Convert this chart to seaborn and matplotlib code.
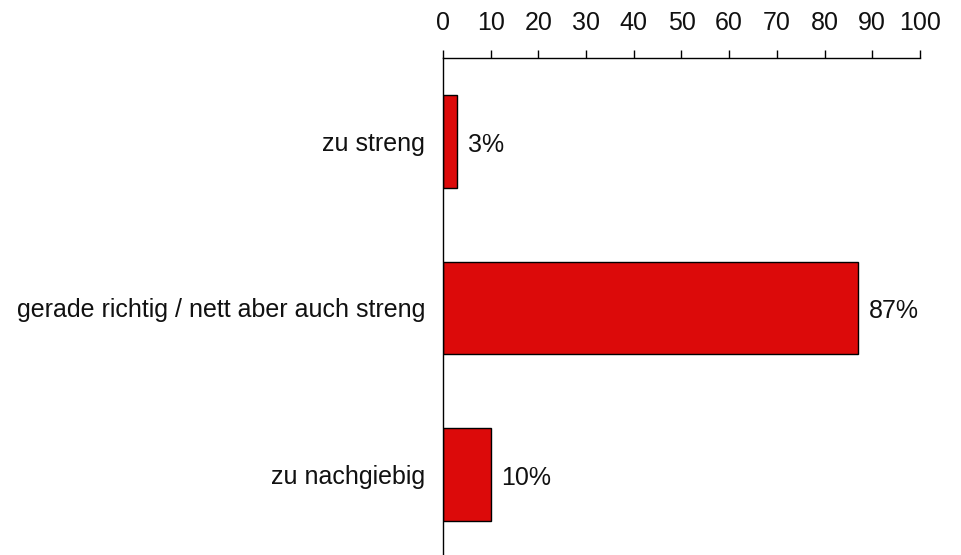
import pandas as pd
import seaborn as sns
import matplotlib.pyplot as plt

# Antworten und Anteile (in Prozent)
kategorien = ['zu streng', 'gerade richtig / nett aber auch streng', 'zu nachgiebig']
anteile = [3, 87, 10]
x_ticks = [0, 10, 20, 30, 40, 50, 60, 70, 80, 90, 100]

df = pd.DataFrame({'kategorie': kategorien, 'anteil': anteile})

sns.set_theme(style="white")
plt.rcParams['font.family'] = ['Liberation Sans', 'DejaVu Sans']

fig = plt.figure(figsize=(9.62, 5.55), dpi=100)
ax = fig.add_axes((0.4605, -0.005, 0.4958, 0.9005))

sns.barplot(data=df, x='anteil', y='kategorie', orient='h', order=kategorien,
            color='#DC0A0A', saturation=1, width=0.555,
            edgecolor='black', linewidth=1, ax=ax)

# Wertbeschriftungen rechts neben den Balken
for i, wert in enumerate(anteile):
    ax.text(wert + 2.2, i + 0.02, f'{wert}%', va='center', ha='left', fontsize=18, color='#111111')

ax.set_xlim(0, 100)
ax.set_ylim(2.5, -0.5)
ax.set_xticks(x_ticks)
ax.xaxis.tick_top()
ax.tick_params(axis='x', direction='out', length=5.8, width=1, color='black',
               pad=11, labelsize=18, labelcolor='#111111', bottom=False, top=True)
ax.tick_params(axis='y', length=0, pad=13, labelsize=18, labelcolor='#111111')
ax.set_xlabel('')
ax.set_ylabel('')

for seite in ['right', 'bottom']:
    ax.spines[seite].set_visible(False)
for seite in ['left', 'top']:
    ax.spines[seite].set_color('black')
    ax.spines[seite].set_linewidth(1)

fig.savefig('out.png', dpi=100)
